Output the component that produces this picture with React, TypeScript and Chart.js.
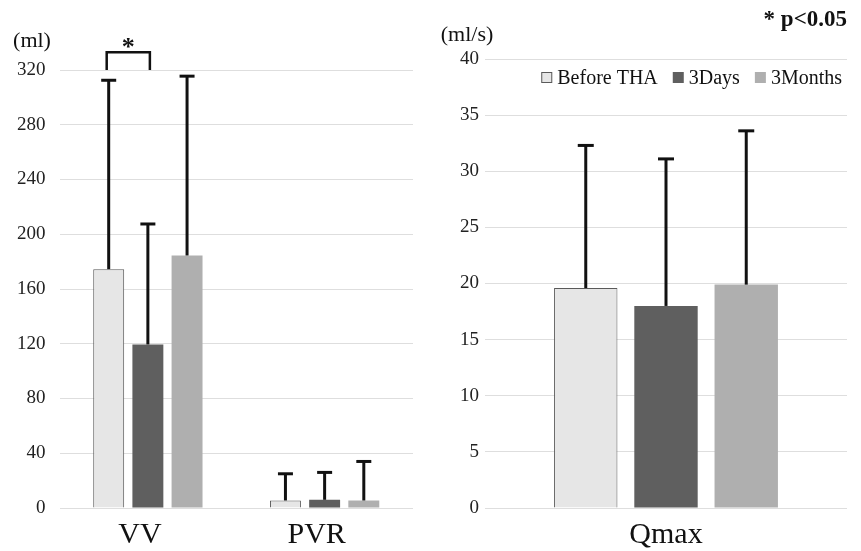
import React, { useEffect, useRef } from "react";
import { Chart, registerables } from "chart.js";

Chart.register(...registerables);

const FONT = "'Liberation Serif', 'Times New Roman', serif";

// Series
const seriesNames = ["Before THA", "3Days", "3Months"];
const seriesFill = ["#e6e6e6", "#5f5f5f", "#afafaf"];
const seriesBorder = ["#5a5a5a", "#5f5f5f", "#afafaf"];
const seriesBorderWidth = [1, 0, 0];

// Left panel: volumes (ml)
const volCategories = ["VV", "PVR"];
const volBefore = [174.5, 5.5];
const vol3Days = [119.5, 6];
const vol3Months = [184.5, 5.5];
const volBeforeSD = [138, 19.5];
const vol3DaysSD = [88, 20];
const vol3MonthsSD = [131, 28.5];
const volMax = 320;
const volStep = 40;

// Right panel: flow (ml/s)
const flowCategories = ["Qmax"];
const flowBefore = [19.6];
const flow3Days = [18.0];
const flow3Months = [19.9];
const flowBeforeSD = [12.7];
const flow3DaysSD = [13.1];
const flow3MonthsSD = [13.7];
const flowMax = 40;
const flowStep = 5;

// Significance bracket (VV: Before THA vs 3Days), in data units
const sigFromSeries = 0;
const sigToSeries = 1;
const sigCategory = 0;
const sigTop = 333;
const sigBottom = 320;

const errorBarPlugin = {
  id: "errorBars",
  afterDatasetsDraw(chart: any, _args: any, opts: any) {
    const ctx = chart.ctx;
    const yScale = chart.scales.y;
    ctx.save();
    ctx.strokeStyle = opts.color || "#111";
    ctx.lineWidth = opts.lineWidth || 3;
    (opts.sd || []).forEach((arr: number[], di: number) => {
      const meta = chart.getDatasetMeta(di);
      meta.data.forEach((bar: any, i: number) => {
        const v = chart.data.datasets[di].data[i];
        const x = bar.x;
        const y0 = yScale.getPixelForValue(v);
        const y1 = yScale.getPixelForValue(v + arr[i]);
        ctx.beginPath();
        ctx.moveTo(x, y0);
        ctx.lineTo(x, y1);
        ctx.stroke();
        ctx.beginPath();
        ctx.moveTo(x - opts.cap / 2, y1);
        ctx.lineTo(x + opts.cap / 2, y1);
        ctx.stroke();
      });
    });
    ctx.restore();
  },
};

const annotationPlugin = {
  id: "annotations",
  afterDraw(chart: any, _args: any, opts: any) {
    const ctx = chart.ctx;
    const area = chart.chartArea;
    ctx.save();
    if (opts.unit) {
      ctx.font = `22px ${FONT}`;
      ctx.fillStyle = "#111";
      ctx.textAlign = "center";
      ctx.textBaseline = "middle";
      ctx.fillText(opts.unit, opts.unitX, opts.unitY);
    }
    if (opts.note) {
      ctx.font = `bold 23px ${FONT}`;
      ctx.fillStyle = "#111";
      ctx.textAlign = "right";
      ctx.textBaseline = "middle";
      ctx.fillText(opts.note, area.right, opts.noteY);
    }
    if (opts.bracket) {
      const b = opts.bracket;
      const yScale = chart.scales.y;
      const x1 = chart.getDatasetMeta(b.from).data[b.cat].x - 2;
      const x2 = chart.getDatasetMeta(b.to).data[b.cat].x + 2;
      const yt = yScale.getPixelForValue(b.top);
      const yb = yScale.getPixelForValue(b.bottom);
      ctx.strokeStyle = "#111";
      ctx.lineWidth = 2.5;
      ctx.beginPath();
      ctx.moveTo(x1, yb);
      ctx.lineTo(x1, yt);
      ctx.lineTo(x2, yt);
      ctx.lineTo(x2, yb);
      ctx.stroke();
      ctx.font = `bold 26px ${FONT}`;
      ctx.fillStyle = "#111";
      ctx.textAlign = "center";
      ctx.textBaseline = "alphabetic";
      ctx.fillText("*", (x1 + x2) / 2, yt + 3);
    }
    if (opts.legend) {
      ctx.font = `20px ${FONT}`;
      ctx.textBaseline = "middle";
      ctx.textAlign = "left";
      const box = 11;
      const gapText = 5;
      const gapItem = 15;
      const ds = chart.data.datasets;
      const widths = ds.map((d: any) => box + gapText + ctx.measureText(d.label).width);
      const total = widths.reduce((a: number, b: number) => a + b, 0) + gapItem * (ds.length - 1);
      let x = area.right - 5 - total;
      const yc = area.top + 18.5;
      ds.forEach((d: any, i: number) => {
        ctx.fillStyle = d.backgroundColor;
        ctx.fillRect(x, yc - box / 2, box, box);
        if (d.borderWidth) {
          ctx.strokeStyle = d.borderColor;
          ctx.lineWidth = 1;
          ctx.strokeRect(x + 0.5, yc - box / 2 + 0.5, box - 1, box - 1);
        }
        ctx.fillStyle = "#111";
        ctx.fillText(d.label, x + box + gapText, yc + 1);
        x += widths[i] + gapItem;
      });
    }
    ctx.restore();
  },
};

function makeDatasets(values: number[][]) {
  return values.map((v, i) => ({
    label: seriesNames[i],
    data: v,
    backgroundColor: seriesFill[i],
    borderColor: seriesBorder[i],
    borderWidth: seriesBorderWidth[i],
    categoryPercentage: 0.665,
    barPercentage: 0.79,
  }));
}

function makeConfig(
  labels: string[],
  values: number[][],
  sd: number[][],
  max: number,
  step: number,
  padding: any,
  tickPad: number,
  labelOffset: number,
  cap: number,
  ann: any
): any {
  return {
    type: "bar",
    data: { labels, datasets: makeDatasets(values) },
    plugins: [errorBarPlugin, annotationPlugin],
    options: {
      responsive: false,
      animation: false,
      layout: { padding },
      plugins: {
        legend: { display: false },
        tooltip: { enabled: false },
        errorBars: { sd, cap, lineWidth: 3, color: "#111" },
        annotations: ann,
      },
      scales: {
        x: {
          grid: { display: false, drawTicks: false },
          border: { display: false },
          ticks: {
            font: { family: FONT, size: 30, lineHeight: 0.8 },
            color: "#111",
            padding: 15,
            labelOffset,
          },
        },
        y: {
          min: 0,
          max,
          grid: { color: "#dedede", lineWidth: 1, drawTicks: false },
          border: { display: false },
          ticks: {
            stepSize: step,
            font: { family: FONT, size: 19 },
            color: "#222",
            padding: tickPad,
          },
        },
      },
    },
  };
}

export default function App() {
  const leftRef = useRef<HTMLCanvasElement>(null);
  const rightRef = useRef<HTMLCanvasElement>(null);

  useEffect(() => {
    const left = new Chart(
      leftRef.current as HTMLCanvasElement,
      makeConfig(
        volCategories,
        [volBefore, vol3Days, vol3Months],
        [volBeforeSD, vol3DaysSD, vol3MonthsSD],
        volMax,
        volStep,
        { left: 3, right: 17, top: 70, bottom: -11 },
        14,
        -8,
        15,
        {
          unit: "(ml)",
          unitX: 32,
          unitY: 41,
          bracket: { from: sigFromSeries, to: sigToSeries, cat: sigCategory, top: sigTop, bottom: sigBottom },
        }
      )
    );
    const right = new Chart(
      rightRef.current as HTMLCanvasElement,
      makeConfig(
        flowCategories,
        [flowBefore, flow3Days, flow3Months],
        [flowBeforeSD, flow3DaysSD, flow3MonthsSD],
        flowMax,
        flowStep,
        { left: 24, right: 14, top: 59, bottom: -11 },
        6,
        0,
        16,
        {
          unit: "(ml/s)",
          unitX: 37,
          unitY: 35,
          note: "* p<0.05",
          noteY: 20,
          legend: true,
        }
      )
    );
    return () => {
      left.destroy();
      right.destroy();
    };
  }, []);

  return (
    <div style={{ position: "fixed", left: 0, top: 0, width: 861, height: 551, background: "#fff" }}>
      <canvas ref={leftRef} width={430} height={551} style={{ position: "absolute", left: 0, top: 0 }} />
      <canvas ref={rightRef} width={431} height={551} style={{ position: "absolute", left: 430, top: 0 }} />
    </div>
  );
}
